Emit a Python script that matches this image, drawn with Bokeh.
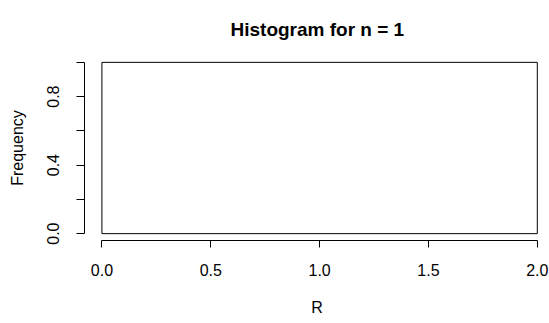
from bokeh.plotting import figure
from bokeh.models import Range1d, FixedTicker
from bokeh.embed import file_html
from bokeh.resources import INLINE

# ---- data ----
bin_edges = [0.0, 2.0]
counts = [1]
x_ticks = [0.0, 0.5, 1.0, 1.5, 2.0]
x_tick_labels = ["0.0", "0.5", "1.0", "1.5", "2.0"]
y_ticks = [0.0, 0.2, 0.4, 0.6, 0.8, 1.0]
y_tick_labels = ["0.0", "", "0.4", "", "0.8", ""]
title_text = "Histogram for n = 1"
x_label = "R"
y_label = "Frequency"

FONT = "Liberation Sans"
INK = "#000000"

p = figure(
    width=549, height=323,
    x_range=Range1d(-0.08, 2.056),
    y_range=Range1d(-0.04, 1.04),
    output_backend="svg", toolbar_location=None,
    min_border_left=84, min_border_right=0,
    min_border_top=55, min_border_bottom=83,
)
p.outline_line_color = None
p.xgrid.visible = False
p.ygrid.visible = False
p.background_fill_color = "white"
p.border_fill_color = "white"

p.quad(left=bin_edges[:-1], right=bin_edges[1:], bottom=[0] * len(counts), top=counts,
       fill_color="white", line_color=INK, line_width=1)

# title
p.title.text = title_text
p.title.align = "left"
p.title.offset = 146
p.title.vertical_align = "top"
p.title.standoff = 27
p.title.text_font = FONT
p.title.text_font_size = "19px"
p.title.text_font_style = "bold"
p.title.text_color = INK

for ax, ticks, labels, lab in ((p.xaxis[0], x_ticks, x_tick_labels, x_label),
                               (p.yaxis[0], y_ticks, y_tick_labels, y_label)):
    ax.ticker = FixedTicker(ticks=ticks)
    ax.major_label_overrides = {t: l for t, l in zip(ticks, labels)}
    ax.bounds = (ticks[0], ticks[-1])
    ax.axis_line_color = INK
    ax.major_tick_line_color = INK
    ax.major_tick_in = 0
    ax.major_tick_out = 7
    ax.minor_tick_in = 0
    ax.minor_tick_out = 0
    ax.major_label_text_font = FONT
    ax.major_label_text_font_size = "16px"
    ax.major_label_text_color = INK
    ax.axis_label = lab
    ax.axis_label_text_font = FONT
    ax.axis_label_text_font_size = "16px"
    ax.axis_label_text_font_style = "normal"
    ax.axis_label_text_color = INK

p.xaxis[0].major_label_standoff = 16
p.xaxis[0].axis_label_standoff = 20
p.yaxis[0].major_tick_out = 8
p.yaxis[0].major_label_orientation = "vertical"
p.yaxis[0].major_label_standoff = 17
p.yaxis[0].axis_label_standoff = 19

open("out.html", "w").write(file_html(p, INLINE))
